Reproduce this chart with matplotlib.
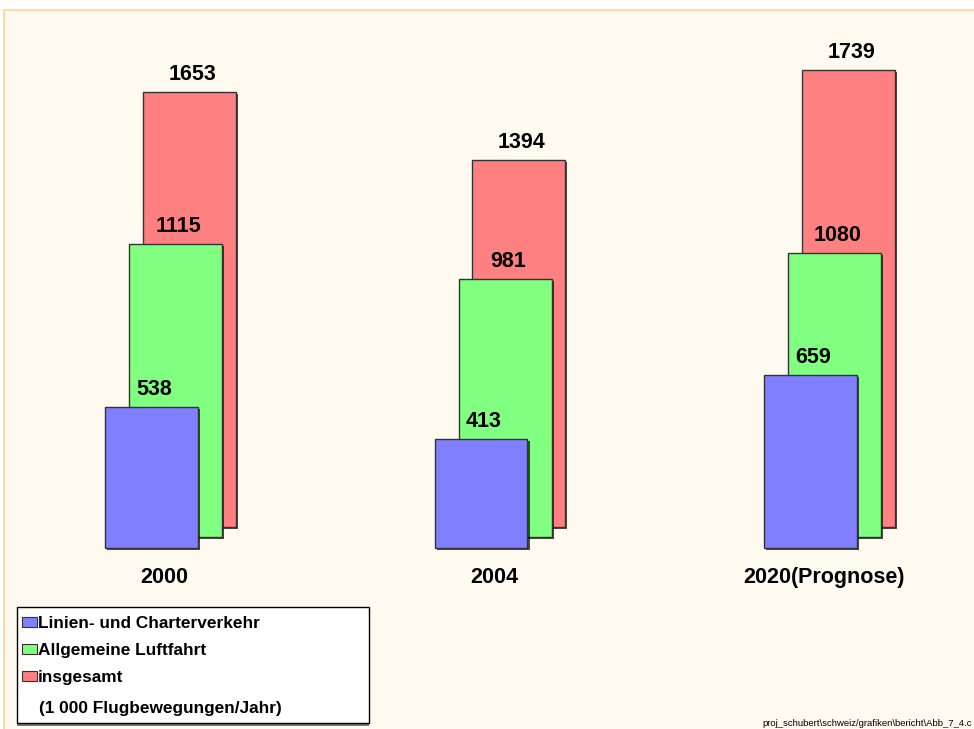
import matplotlib.pyplot as plt
import matplotlib.patheffects as pe
from matplotlib.patches import Patch, Rectangle
import numpy as np

plt.rcParams['font.family'] = ['Liberation Sans', 'DejaVu Sans']

# data (1 000 Flugbewegungen/Jahr)
years = ['2000', '2004', '2020(Prognose)']
linien = [538, 413, 659]
allgemein = [1115, 981, 1080]
insgesamt = [1653, 1394, 1739]
names = ['Linien- und Charterverkehr', 'Allgemeine Luftfahrt', 'insgesamt']
unit_note = '(1 000 Flugbewegungen/Jahr)'

# style
cols = ['#8080ff', '#80ff80', '#ff8080']
xoff = [0.0, 0.073, 0.115]     # pseudo 3d depth shift
yoff = [0, 42, 80]
width = 0.282
W, H = 974, 729

fig = plt.figure(figsize=(9.74, 7.29), dpi=100)
fig.patch.set_facecolor('white')
# cream background panel
fig.patches.append(Rectangle((4/W, -0.01), 1.0, 1 - 10/H + 0.01, transform=fig.transFigure,
                             facecolor='#fffaef', edgecolor='#ffd9a8', lw=1.5, zorder=-10))

ax = fig.add_axes([0, 181/H, 1, 538/H])
ax.set_facecolor('none')
ax.set_xlim(-0.4598, 2.496)
ax.set_ylim(0, 2046)

x = np.arange(len(years))
series = [linien, allgemein, insgesamt]
shadow = [pe.SimplePatchShadow(offset=(1.5, -1.5), shadow_rgbFace='black', alpha=0.7), pe.Normal()]

for i in [2, 1, 0]:
    bars = ax.bar(x + xoff[i], series[i], width=width, bottom=yoff[i], color=cols[i],
                  edgecolor='#333333', linewidth=1, zorder=3 - i, clip_on=False)
    for b in bars:
        b.set_path_effects(shadow)
    for xi, v in zip(x, series[i]):
        ax.annotate(str(v), (xi + xoff[i], v + yoff[i]), xytext=(2, 5), textcoords='offset points',
                    ha='center', va='bottom', fontsize=15.5, fontweight='bold', zorder=5)

ax.set_xticks(x + 0.04, years)
ax.tick_params(axis='x', length=0, pad=14, labelsize=15.5)
for t in ax.get_xticklabels():
    t.set_fontweight('bold')
ax.set_yticks([])
for s in ax.spines.values():
    s.set_visible(False)

# legend box
box = Rectangle((17/W, 1 - 723/H), 352/W, 116/H, transform=fig.transFigure,
                facecolor='white', edgecolor='black', lw=1, zorder=4)
box.set_path_effects([pe.SimplePatchShadow(offset=(0, -2), shadow_rgbFace='#777777', alpha=1),
                      pe.Normal()])
fig.patches.append(box)

handles = [Patch(facecolor=c, edgecolor='#333333', lw=0.8) for c in cols]
leg = fig.legend(handles, names, loc='upper left', bbox_to_anchor=(22/W, 1 - 616/H),
                 bbox_transform=fig.transFigure, borderaxespad=0, borderpad=0, frameon=False,
                 prop={'weight': 'bold', 'size': 12.4}, handlelength=0.85,
                 handleheight=0.5, handletextpad=0.08, labelspacing=0.7)
leg.set_zorder(6)
fig.text(39/W, 1 - 708/H, unit_note, fontsize=12.4, fontweight='bold', va='center', zorder=6)

fig.text(762/W, 1/H, 'proj_schubert\\schweiz/grafiken\\bericht\\Abb_7_4.c', fontsize=6.8,
         ha='left', va='bottom')

fig.savefig('out.png', dpi=100)
